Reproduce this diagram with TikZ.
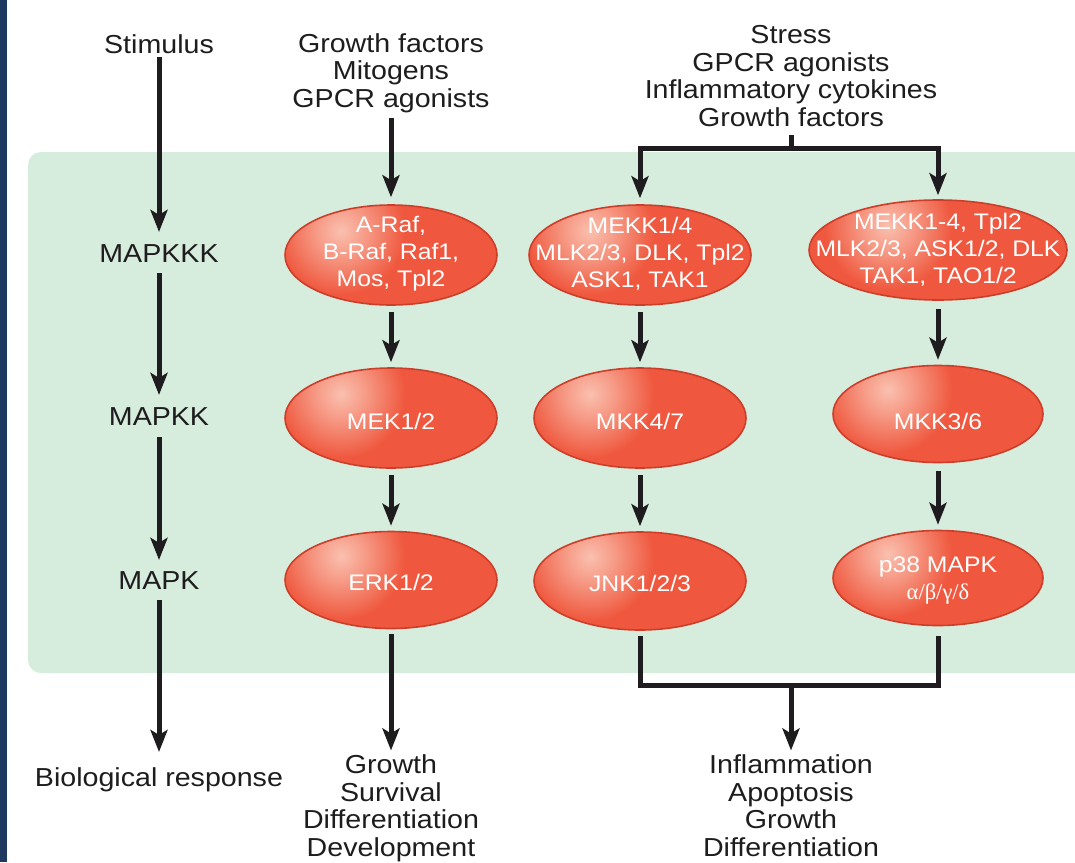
\documentclass[tikz,border=0pt]{standalone}
\usepackage{fontspec}
\setmainfont{Liberation Sans}[FakeStretch=1.1]
\newfontfamily\grkfont{Liberation Serif}
\usetikzlibrary{shapes.geometric,arrows.meta,calc}
\definecolor{bggreen}{RGB}{214,236,220}
\definecolor{barblue}{RGB}{31,56,96}
\definecolor{kinred}{RGB}{239,88,62}
\definecolor{kinlight}{RGB}{250,192,175}
\definecolor{kinedge}{RGB}{205,62,42}
\definecolor{ink}{RGB}{30,28,30}
\pgfdeclareradialshading{kinshade}{\pgfpoint{0bp}{0bp}}{color(0bp)=(kinlight); color(3bp)=(kinlight!65!kinred); color(8bp)=(kinred); color(50bp)=(kinred)}
\tikzset{
  lab/.style={font=\fontsize{26}{27.5}\selectfont, text=ink, inner sep=0pt, align=center},
  kt/.style={text=white, font=\fontsize{22.5}{27}\selectfont, align=center, inner sep=0pt},
  kin/.style={ellipse, draw=kinedge, line width=1.6pt, fill=kinred, inner sep=0pt,
    minimum width=212pt, minimum height=98pt,
    path picture={\shade[shading=kinshade]
      ($(path picture bounding box.center)+(-50pt,24pt)$) circle[radius=200pt];}},
  ln/.style={draw=ink, line width=5pt},
  arr/.style={ln, -{Stealth[length=22pt,width=17pt,inset=5pt]}}
}
\begin{document}
\begin{tikzpicture}[x=1pt,y=-1pt]
\useasboundingbox (0,0) rectangle (1075,862);
\fill[white] (0,0) rectangle (1075,862);
\fill[barblue] (0,0) rectangle (7,862);
\fill[bggreen, rounded corners=13pt] (28,152) rectangle (1100,673);

% left column labels
\node[lab, anchor=base] (stim) at (159,53) {Stimulus};
\node[lab, anchor=base] (mkkk) at (159,262) {MAPKKK};
\node[lab, anchor=base] (mkk) at (159,425) {MAPKK};
\node[lab, anchor=base] (mk) at (159,589) {MAPK};
\node[lab, anchor=base] (bio) at (159,786) {Biological response};

% stimuli
\node[lab, anchor=base] (gf) at (391,107) {Growth factors\\Mitogens\\GPCR agonists};
\node[lab, anchor=base] (stress) at (791,126) {Stress\\GPCR agonists\\Inflammatory cytokines\\Growth factors};

% kinases
\node[kin, minimum width=212pt, minimum height=100pt,
  label={[kt,yshift=1pt]center:{A-Raf,\\B-Raf, Raf1,\\Mos, Tpl2}}] (e1) at (391,255) {};
\node[kin, minimum width=222pt, minimum height=100pt,
  label={[kt,yshift=1pt]center:{MEKK1/4\\MLK2/3, DLK, Tpl2\\ASK1, TAK1}}] (e2) at (640,255) {};
\node[kin, minimum width=258pt, minimum height=100pt,
  label={[kt]center:{MEKK1-4, Tpl2\\MLK2/3, ASK1/2, DLK\\TAK1, TAO1/2}}] (e3) at (938,250) {};
\node[kin, minimum height=100pt, label={[kt,yshift=-3pt]center:MEK1/2}] (e4) at (391,418) {};
\node[kin, minimum height=100pt, label={[kt,yshift=-3pt]center:MKK4/7}] (e5) at (640,418) {};
\node[kin, minimum width=210pt, minimum height=97pt, label={[kt,yshift=-7pt]center:MKK3/6}] (e6) at (938,414) {};
\node[kin, minimum height=97pt, label={[kt,yshift=-2pt]center:ERK1/2}] (e7) at (391,580) {};
\node[kin, minimum height=98pt, label={[kt,yshift=-2pt]center:JNK1/2/3}] (e8) at (640,581) {};
\node[kin, minimum width=210pt, minimum height=95pt,
  label={[kt,yshift=-3pt]center:{p38 MAPK\\{\grkfont α/β/γ/δ}}}] (e9) at (938,578) {};

% responses
\node[lab, anchor=base] (resp1) at (391,856) {Growth\\Survival\\Differentiation\\Development};
\node[lab, anchor=base] (resp2) at (791,856) {Inflammation\\Apoptosis\\Growth\\Differentiation};

% left column arrows
\draw[arr, shorten <=4pt, shorten >=12pt] (stim.south) -- (mkkk.north);
\draw[arr, shorten <=11pt, shorten >=12pt] (mkkk.south) -- (mkk.north);
\draw[arr, shorten <=12pt, shorten >=11pt] (mkk.south) -- (mk.north);
\draw[arr, shorten <=11pt, shorten >=15pt] (mk.south) -- (bio.north);

% ERK column
\draw[arr, shorten <=5pt, shorten >=7pt] (gf.south) -- (e1.north);
\draw[arr, shorten <=6pt, shorten >=5pt] (e1.south) -- (e4.north);
\draw[arr, shorten <=6pt, shorten >=5pt] (e4.south) -- (e7.north);
\draw[arr, shorten <=5pt, shorten >=4pt] (e7.south) -- (resp1.north);

% top bracket
\coordinate (tl) at (640,148);
\coordinate (tr) at (938,148);
\coordinate (tm) at (791,148);
\draw[ln, shorten <=9pt] (stress.south) -- (tm);
\draw[ln, line cap=rect] (tl) -- (tr);
\draw[arr, shorten >=6pt] (tl) -- (e2.north);
\draw[arr, shorten >=4pt] (tr) -- (e3.north);

% JNK and p38 columns
\draw[arr, shorten <=6pt, shorten >=5pt] (e2.south) -- (e5.north);
\draw[arr, shorten <=6pt, shorten >=5pt] (e5.south) -- (e8.north);
\draw[arr, shorten <=8pt, shorten >=5pt] (e3.south) -- (e6.north);
\draw[arr, shorten <=8pt, shorten >=5pt] (e6.south) -- (e9.north);

% bottom bracket
\coordinate (bl) at (640,685);
\coordinate (br) at (938,685);
\coordinate (bm) at (791,685);
\draw[ln, line join=miter, shorten <=5pt, shorten >=10pt] (e8.south) -- (bl) -- (br) -- (e9.south);
\draw[arr, shorten >=4pt] (bm) -- (resp2.north);
\end{tikzpicture}
\end{document}
